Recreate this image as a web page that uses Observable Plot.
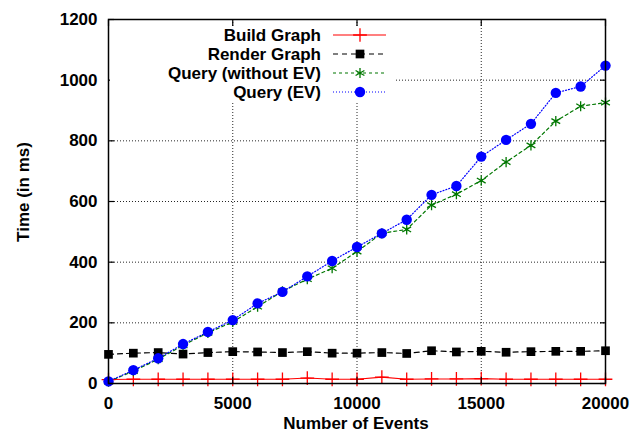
<!DOCTYPE html>
<html>
<head>
<meta charset="utf-8">
<script src="https://cdn.jsdelivr.net/npm/d3@7"></script>
<script src="https://cdn.jsdelivr.net/npm/@observablehq/plot@0.6"></script>
<style>
  html, body { margin: 0; padding: 0; background: #fff; }
  #chart { width: 633px; height: 441px; }
</style>
</head>
<body>
<div id="chart"></div>
<script>
// ---- data ----
const events = [0, 1000, 2000, 3000, 4000, 5000, 6000, 7000, 8000, 9000, 10000,
                11000, 12000, 13000, 14000, 15000, 16000, 17000, 18000, 19000, 20000];
const buildGraph  = [13, 14, 14, 14, 14, 14, 14, 14, 18, 14, 14, 21, 14, 15, 15, 16, 14, 14, 14, 14, 14];
const renderGraph = [96, 100, 102, 97, 102, 105, 104, 102, 105, 100, 100, 102, 99, 108, 104, 106, 103, 105, 106, 106, 108];
const queryNoEV   = [6, 41, 80, 126, 167, 203, 253, 304, 344, 380, 435, 495, 508, 588, 624, 669, 730, 785, 865, 914, 926];
const queryEV     = [7, 44, 83, 130, 170, 209, 264, 302, 353, 404, 450, 495, 540, 622, 651, 748, 803, 856, 958, 979, 1048];
const seriesNames = ["Build Graph", "Render Graph", "Query (without EV)", "Query (EV)"];
const xTicks = [0, 5000, 10000, 15000, 20000];
const yTicks = [0, 200, 400, 600, 800, 1000, 1200];
const xLabel = "Number of Events";
const yLabel = "Time (in ms)";

const series = [buildGraph, renderGraph, queryNoEV, queryEV];
const rows = series.flatMap((vals, i) => vals.map((v, j) => ({x: events[j], y: v, s: seriesNames[i]})));
const bySeries = name => rows.filter(d => d.s === name);

const styles = {
  "Build Graph":        {stroke: "#ff0000", dash: null,  width: 1.1, symbol: "plus",     r: 4.5, fill: "none"},
  "Render Graph":       {stroke: "#000000", dash: "5,4", width: 1.2, symbol: "square",   r: 4.9, fill: "#000000"},
  "Query (without EV)": {stroke: "#007700", dash: "3,3", width: 1.2, symbol: "asterisk", r: 4.8, fill: "none"},
  "Query (EV)":         {stroke: "#0000ff", dash: "1,2", width: 1.2, symbol: "circle",   r: 5.2, fill: "#0000ff"}
};

const plain = d => String(d);
const marks = [
  Plot.gridX(xTicks.slice(1, -1), {stroke: "#000", strokeOpacity: 0.85, strokeDasharray: "1,2"}),
  Plot.gridY(yTicks.slice(1, -1), {stroke: "#000", strokeOpacity: 0.85, strokeDasharray: "1,2"})
];
for (const name of seriesNames) {
  const st = styles[name];
  marks.push(Plot.line(bySeries(name), {x: "x", y: "y", stroke: st.stroke, strokeWidth: st.width, strokeDasharray: st.dash}));
}
for (const name of seriesNames) {
  const st = styles[name];
  const filled = st.fill !== "none";
  marks.push(Plot.dot(bySeries(name), {
    x: "x", y: "y", symbol: () => st.symbol, r: st.r,
    fill: filled ? st.fill : "none",
    stroke: filled ? "none" : st.stroke,
    strokeWidth: 1.3
  }));
}
marks.push(
  Plot.axisX(xTicks, {anchor: "bottom", tickSize: 0, tickPadding: 13, label: null, tickFormat: plain}),
  Plot.axisY(yTicks, {anchor: "left", tickSize: 0, tickPadding: 11, label: null, tickFormat: plain}),
  Plot.axisX(xTicks, {anchor: "bottom", tickSize: -6, tickFormat: () => "", label: null, strokeWidth: 1.2}),
  Plot.axisX(xTicks, {anchor: "top", tickSize: -6, tickFormat: () => "", label: null, strokeWidth: 1.2}),
  Plot.axisY(yTicks, {anchor: "left", tickSize: -6, tickFormat: () => "", label: null, strokeWidth: 1.2}),
  Plot.axisY(yTicks, {anchor: "right", tickSize: -6, tickFormat: () => "", label: null, strokeWidth: 1.2}),
  Plot.frame({stroke: "#000", strokeWidth: 1.5})
);

const plot = Plot.plot({
  width: 633,
  height: 441,
  marginLeft: 108,
  marginRight: 28,
  marginTop: 19,
  marginBottom: 58,
  style: {fontFamily: "'Liberation Sans', Arial, sans-serif", fontWeight: "bold", fontSize: "17px", color: "#000", background: "#fff", overflow: "visible"},
  x: {domain: [0, 20000]},
  y: {domain: [0, 1200]},
  marks
});
document.getElementById("chart").appendChild(plot);

// ---- axis titles and legend (non-data decorations) ----
const svg = d3.select(plot);
svg.append("text")
  .attr("x", 356).attr("y", 429)
  .attr("text-anchor", "middle")
  .attr("font-size", 17).attr("font-weight", "bold")
  .text(xLabel);
svg.append("text")
  .attr("transform", "translate(29,192) rotate(-90)")
  .attr("text-anchor", "middle")
  .attr("font-size", 17).attr("font-weight", "bold")
  .text(yLabel);

const lg = svg.append("g");
lg.append("rect").attr("x", 110).attr("y", 26).attr("width", 286).attr("height", 76).attr("fill", "#fff");
const rowY = [35, 54, 73, 92];
seriesNames.forEach((name, i) => {
  const st = styles[name];
  const y = rowY[i];
  lg.append("text").attr("x", 321).attr("y", y).attr("dy", "0.35em")
    .attr("text-anchor", "end").attr("font-size", 17).attr("font-weight", "bold").text(name);
  lg.append("line").attr("x1", 333).attr("x2", 386).attr("y1", y).attr("y2", y)
    .attr("stroke", st.stroke).attr("stroke-width", st.width)
    .attr("stroke-dasharray", st.dash);
  const sym = d3.symbol().type({
    plus: d3.symbolPlus, square: d3.symbolSquare, asterisk: d3.symbolAsterisk, circle: d3.symbolCircle
  }[st.symbol]).size(Math.PI * st.r * st.r);
  const filled = st.fill !== "none";
  lg.append("path").attr("d", sym()).attr("transform", `translate(360,${y})`)
    .attr("fill", filled ? st.fill : "none")
    .attr("stroke", filled ? "none" : st.stroke).attr("stroke-width", 1.3);
});
</script>
</body>
</html>
